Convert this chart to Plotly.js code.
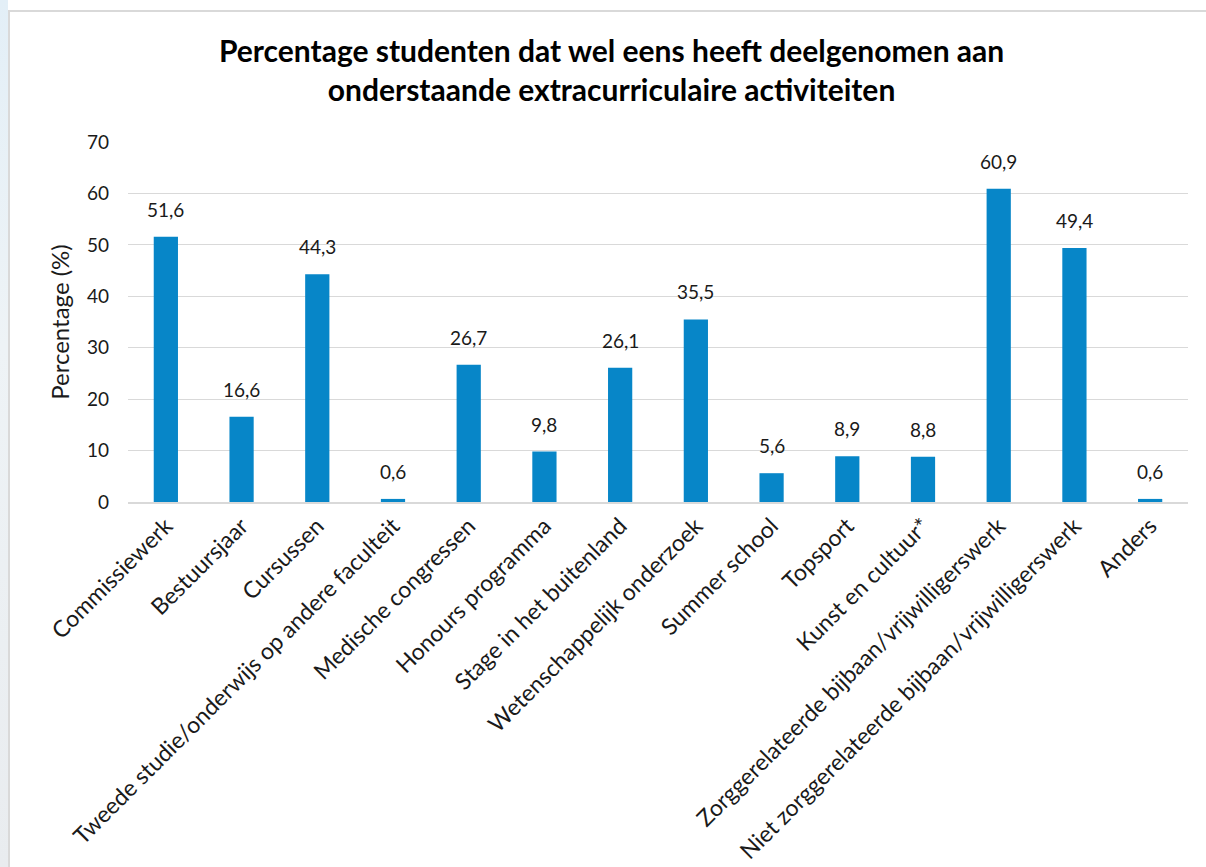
<!DOCTYPE html>
<html>
<head>
<meta charset="utf-8">
<script src="https://cdn.plot.ly/plotly-3.0.1.min.js"></script>
<style>
  html, body { margin: 0; padding: 0; width: 1206px; height: 867px; overflow: hidden; background: #ffffff; }
  #strip { position: absolute; left: 0; top: 0; width: 8px; height: 867px; background: linear-gradient(#e3eff7, #eef3f6 40%, #e9ecef); }
  #chart { position: absolute; left: 8px; top: 10px; width: 1198px; height: 857px; border-left: 2px solid #d9d9d9; border-top: 2px solid #d9d9d9; box-sizing: border-box; background: #fff; }
</style>
</head>
<body>
<div id="strip"></div>
<div id="chart"></div>
<script>
const categories = [
  "Commissiewerk",
  "Bestuursjaar",
  "Cursussen",
  "Tweede studie/onderwijs op andere faculteit",
  "Medische congressen",
  "Honours programma",
  "Stage in het buitenland",
  "Wetenschappelijk onderzoek",
  "Summer school",
  "Topsport",
  "Kunst en cultuur*",
  "Zorggerelateerde bijbaan/vrijwilligerswerk",
  "Niet zorggerelateerde bijbaan/vrijwilligerswerk",
  "Anders"
];
const percentages = [51.6, 16.6, 44.3, 0.6, 26.7, 9.8, 26.1, 35.5, 5.6, 8.9, 8.8, 60.9, 49.4, 0.6];
const labels = percentages.map(v => v.toFixed(1).replace('.', ','));
const yTicks = [0, 10, 20, 30, 40, 50, 60, 70];

const font = "Lato, 'Open Sans', sans-serif";

const trace = {
  type: 'bar',
  x: categories,
  y: percentages,
  marker: { color: '#0786c8' },
  hoverinfo: 'x+y'
};

const annotations = categories.map((c, i) => ({
  x: c, y: percentages[i], xref: 'x', yref: 'y',
  text: labels[i], showarrow: false,
  yanchor: 'bottom', yshift: 14,
  font: { family: font, size: 19, color: '#1a1a1a' }
}));

const layout = {
  width: 1196,
  height: 855,
  paper_bgcolor: '#ffffff',
  plot_bgcolor: '#ffffff',
  margin: { l: 118, r: 18, t: 130, b: 365 },
  bargap: 0.68,
  showlegend: false,
  font: { family: font, color: '#1a1a1a' },
  annotations: annotations,
  title: {
    text: '<b>Percentage studenten dat wel eens heeft deelgenomen aan<br>onderstaande extracurriculaire activiteiten</b>',
    font: { family: font, size: 30, color: '#000000' },
    xref: 'container', x: 0.503, xanchor: 'center',
    yref: 'container', y: 0.941, yanchor: 'middle'
  },
  xaxis: {
    tickangle: -45,
    tickfont: { family: font, size: 23, color: '#1a1a1a' },
    showline: true, linecolor: '#d9d9d9', linewidth: 1.5,
    ticks: '', automargin: false
  },
  yaxis: {
    range: [0, 70],
    tickvals: yTicks,
    ticktext: yTicks.map(String),
    tickfont: { family: font, size: 19, color: '#1a1a1a' },
    showgrid: true, gridcolor: '#d9d9d9', gridwidth: 1.2,
    zeroline: false, ticks: '', ticklen: 0,
    ticklabelstandoff: 18,
    title: { text: 'Percentage (%)', font: { family: font, size: 24, color: '#1a1a1a' }, standoff: 10 },
    automargin: false
  }
};

Plotly.newPlot('chart', [trace], layout, { displayModeBar: false, staticPlot: true });
</script>
</body>
</html>
